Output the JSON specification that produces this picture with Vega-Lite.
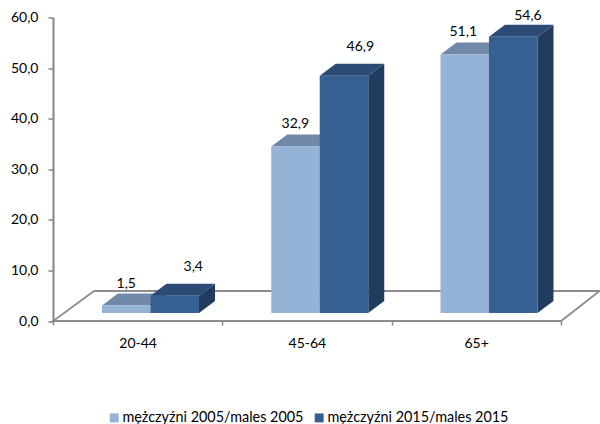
{
"$schema":"https://vega.github.io/schema/vega-lite/v6.json",
"autosize":{"type":"none"},
"padding":{"left":53,"top":17.5,"right":39,"bottom":103},
"width":507.75,
"height":303.5,
"background":"white",
"config":{"view":{"stroke":null},"text":{"font":"Lato"},"axis":{"labelFont":"Lato"},"legend":{"labelFont":"Lato"}},
"data":{"values":[
{"group":"20-44","series":"mężczyźni 2005/males 2005","value":1.5,"bar":"a1","label":"1,5"},
{"group":"20-44","series":"mężczyźni 2015/males 2015","value":3.4,"bar":"a2","label":"3,4"},
{"group":"45-64","series":"mężczyźni 2005/males 2005","value":32.9,"bar":"b1","label":"32,9"},
{"group":"45-64","series":"mężczyźni 2015/males 2015","value":46.9,"bar":"b2","label":"46,9"},
{"group":"65+","series":"mężczyźni 2005/males 2005","value":51.1,"bar":"c1","label":"51,1"},
{"group":"65+","series":"mężczyźni 2015/males 2015","value":54.6,"bar":"c2","label":"54,6"}
]},
"encoding":{
"x":{"field":"group","type":"nominal","scale":{"paddingInner":0,"paddingOuter":0},"axis":{"title":null,"labelAngle":0,"domain":false,"tickBand":"extent","tickColor":"#868686","tickSize":4,"tickWidth":1.5,"labelFontSize":14,"labelColor":"#000","labelPadding":11}},
"y":{"field":"value","type":"quantitative","stack":null,"scale":{"domain":[0,60],"nice":false},"axis":{"title":null,"grid":false,"values":[0,10,20,30,40,50,60],"labelExpr":"replace(format(datum.value,'.1f'),'.',',')","domainColor":"#868686","domainWidth":2,"tickColor":"#868686","tickWidth":1.5,"tickSize":5,"labelFontSize":14,"labelColor":"#000","labelPadding":10,"zindex":1}}
},
"layer":[
{"transform":[{"filter":"datum.bar=='a1'"}],
"mark":{"type":"point","opacity":1,"size":4,"stroke":"#8c8c8c","strokeWidth":1.8,"fill":"white","shape":"M-84.5,0 L423.5,0 L462,-30 L-43.5,-30 Z"},
"encoding":{"y":{"datum":0}}},
{"mark":{"type":"point","filled":true,"opacity":1,"size":4,"strokeWidth":0,"yOffset":-8},
"encoding":{
"xOffset":{"field":"series","type":"nominal","scale":{"paddingInner":0,"paddingOuter":0.745,"align":0.678}},
"fill":{"field":"series","type":"nominal","legend":null,"scale":{"domain":["mężczyźni 2005/males 2005","mężczyźni 2015/males 2015"],"range":["#6F88A6","#213C5E"]}},
"shape":{"field":"bar","type":"nominal","legend":null,"scale":{"domain":["a1","a2","b1","b2","c1","c2"],"range":[
"M24.25,0 L40.25,-12 L40.25,-4.4 L24.25,7.6 Z",
"M24.25,0 L40.25,-12 L40.25,5.2 L24.25,17.2 Z",
"M24.25,0 L40.25,-12 L40.25,154.4 L24.25,166.4 Z",
"M24.25,0 L40.25,-12 L40.25,225.2 L24.25,237.2 Z",
"M24.25,0 L40.25,-12 L40.25,246.5 L24.25,258.5 Z",
"M24.25,0 L40.25,-12 L40.25,264.2 L24.25,276.2 Z"]}}}},
{"mark":{"type":"point","filled":true,"opacity":1,"size":4,"strokeWidth":0,"yOffset":-8,"shape":"M-24.25,0 L24.25,0 L40.25,-12 L-8.25,-12 Z"},
"encoding":{
"xOffset":{"field":"series","type":"nominal","scale":{"paddingInner":0,"paddingOuter":0.745,"align":0.678}},
"fill":{"field":"series","type":"nominal","legend":null,"scale":{"domain":["mężczyźni 2005/males 2005","mężczyźni 2015/males 2015"],"range":["#7089A8","#2B4A75"]}}}},
{"mark":{"type":"bar","yOffset":-8},
"encoding":{
"y2":{"datum":1.58},
"xOffset":{"field":"series","type":"nominal","scale":{"paddingInner":0,"paddingOuter":0.745,"align":0.678}},
"fill":{"field":"series","type":"nominal","scale":{"domain":["mężczyźni 2005/males 2005","mężczyźni 2015/males 2015"],"range":["#95B3D7","#376092"]},
"legend":{"title":null,"orient":"none","legendX":54,"legendY":393,"direction":"horizontal","columns":2,"symbolType":"square","symbolSize":80,"symbolStrokeWidth":0,"labelFontSize":14.4,"labelColor":"#000","labelLimit":400,"columnPadding":8,"labelOffset":1}}}},
{"transform":[{"filter":"datum.bar=='a1'"}],"mark":{"type":"text","fontSize":14,"color":"#000","baseline":"middle","xOffset":-11.4,"yOffset":-29.4},"encoding":{"text":{"field":"label"}}},
{"transform":[{"filter":"datum.bar=='a2'"}],"mark":{"type":"text","fontSize":14,"color":"#000","baseline":"middle","xOffset":55.6,"yOffset":-37.1},"encoding":{"text":{"field":"label"}}},
{"transform":[{"filter":"datum.bar=='b1'"}],"mark":{"type":"text","fontSize":14,"color":"#000","baseline":"middle","xOffset":-11.6,"yOffset":-30.6},"encoding":{"text":{"field":"label"}}},
{"transform":[{"filter":"datum.bar=='b2'"}],"mark":{"type":"text","fontSize":14,"color":"#000","baseline":"middle","xOffset":53.4,"yOffset":-36.8},"encoding":{"text":{"field":"label"}}},
{"transform":[{"filter":"datum.bar=='c1'"}],"mark":{"type":"text","fontSize":14,"color":"#000","baseline":"middle","xOffset":-12.9,"yOffset":-30.5},"encoding":{"text":{"field":"label"}}},
{"transform":[{"filter":"datum.bar=='c2'"}],"mark":{"type":"text","fontSize":14,"color":"#000","baseline":"middle","xOffset":51.8,"yOffset":-29.3},"encoding":{"text":{"field":"label"}}}
],
"resolve":{"scale":{"fill":"independent"},"legend":{"fill":"independent"}}
}
